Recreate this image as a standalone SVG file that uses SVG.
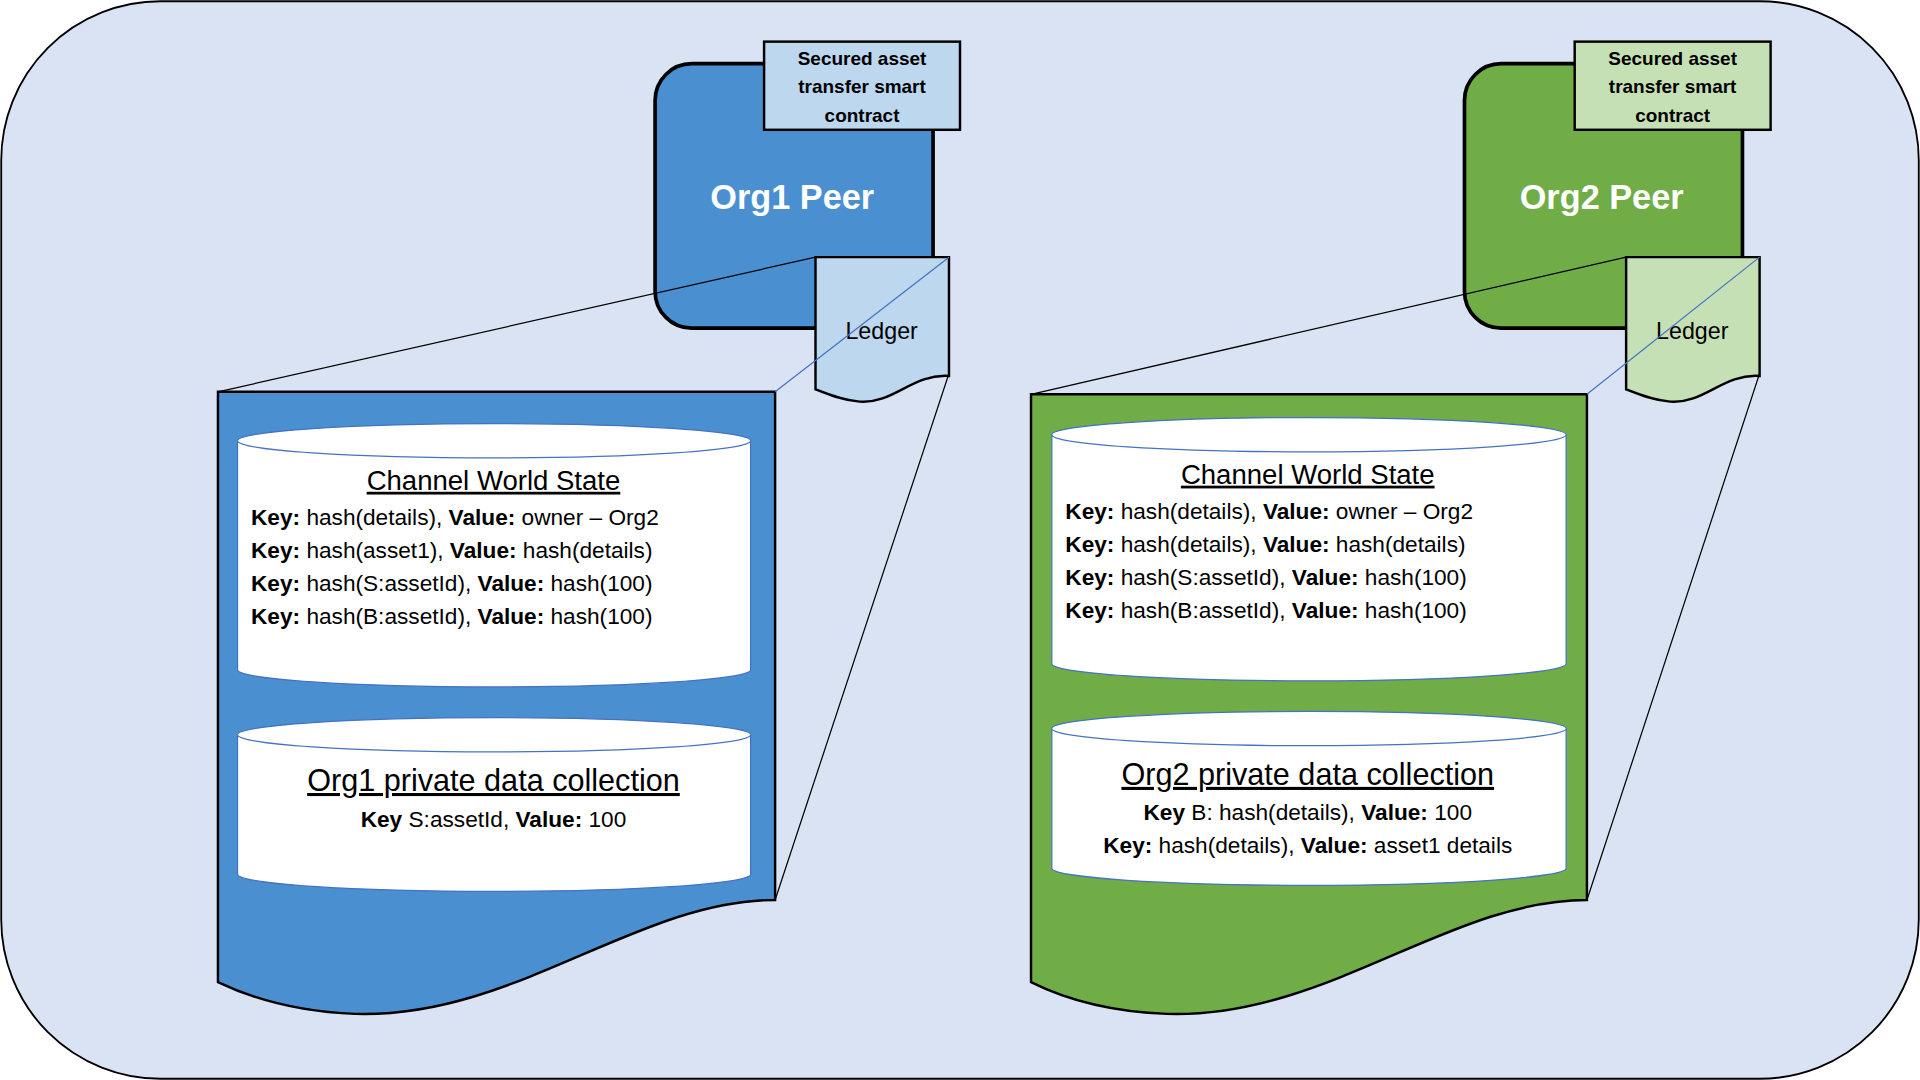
<svg xmlns="http://www.w3.org/2000/svg" width="1920" height="1080" viewBox="0 0 1920 1080">
<style>
text{font-family:"Liberation Sans",Arial,sans-serif;fill:#000}
.peer{stroke:#000;stroke-width:3}
.box{stroke:#000;stroke-width:2}
.cyl{fill:#fff;stroke:#4472c4;stroke-width:1}
.t{font-size:18.5px}
.ttl{font-size:22.5px;text-decoration:underline;text-anchor:middle}
.big{font-size:25px;text-decoration:underline;text-anchor:middle}
.sc{font-size:15.5px;font-weight:bold;text-anchor:middle}
.pl{font-size:28px;font-weight:bold;fill:#fff;text-anchor:middle}
.ln{stroke:#000;stroke-width:1;fill:none}
.bl{stroke:#4472c4;stroke-width:1;fill:none}
</style>
<g transform="scale(1.22449)">
<rect id="background" x="1" y="1" width="1566" height="880" rx="130" fill="#dae3f3" stroke="#000" stroke-width="1.5"/>
<g id="org1">
<g id="org1-peer"><rect class="peer" x="535" y="52" width="227" height="216" rx="30" fill="#4a8fd0"/><text class="pl" x="647" y="171">Org1 Peer</text></g>
<g id="org1-contract"><rect class="box" x="624" y="34" width="160" height="72" fill="#bdd7ee"/><text class="sc" x="704" y="53">Secured asset</text><text class="sc" x="704" y="76">transfer smart</text><text class="sc" x="704" y="100">contract</text></g>
<g id="org1-ledger"><path class="box" d="M666,210 H775 V307 C745,305 730,330 702,328 C688,327 676,322 666,318 Z" fill="#bdd7ee" stroke-width="1.5"/><text x="720" y="277" font-size="19" text-anchor="middle">Ledger</text></g>
<g id="org1-doc"><path class="box" d="M178,320 H633 V735 C520,735 420,832 290,828 C240,826 205,815 178,802 Z" fill="#4a8fd0"/></g>
<g id="org1-world">
<path class="cyl" d="M194,360 A209.5,14 0 0 1 613,360 V547 A209.5,14 0 0 1 194,547 Z"/><path class="cyl" fill="none" d="M194,360 A209.5,14 0 0 0 613,360"/>
<text class="ttl" x="403" y="400">Channel World State</text>
<text class="t" x="205" y="429"><tspan font-weight="bold">Key:</tspan> hash(details), <tspan font-weight="bold">Value:</tspan> owner – Org2</text>
<text class="t" x="205" y="456"><tspan font-weight="bold">Key:</tspan> hash(asset1), <tspan font-weight="bold">Value:</tspan> hash(details)</text>
<text class="t" x="205" y="483"><tspan font-weight="bold">Key:</tspan> hash(S:assetId), <tspan font-weight="bold">Value:</tspan> hash(100)</text>
<text class="t" x="205" y="510"><tspan font-weight="bold">Key:</tspan> hash(B:assetId), <tspan font-weight="bold">Value:</tspan> hash(100)</text>
</g>
<g id="org1-private">
<path class="cyl" d="M194,600 A209.5,14 0 0 1 613,600 V714 A209.5,14 0 0 1 194,714 Z"/><path class="cyl" fill="none" d="M194,600 A209.5,14 0 0 0 613,600"/>
<text class="big" x="403" y="646">Org1 private data collection</text>
<text class="t" x="403" y="675" text-anchor="middle"><tspan font-weight="bold">Key</tspan> S:assetId, <tspan font-weight="bold">Value:</tspan> 100</text>
</g>
</g>
<g id="org2">
<g id="org2-peer"><rect class="peer" x="1196" y="52" width="227" height="216" rx="30" fill="#70ad47"/><text class="pl" x="1308" y="171">Org2 Peer</text></g>
<g id="org2-contract"><rect class="box" x="1286" y="34" width="160" height="72" fill="#c5e0b4"/><text class="sc" x="1366" y="53">Secured asset</text><text class="sc" x="1366" y="76">transfer smart</text><text class="sc" x="1366" y="100">contract</text></g>
<g id="org2-ledger"><path class="box" d="M1328,210 H1437 V307 C1407,305 1392,330 1364,328 C1350,327 1338,322 1328,318 Z" fill="#c5e0b4" stroke-width="1.5"/><text x="1382" y="277" font-size="19" text-anchor="middle">Ledger</text></g>
<g id="org2-doc"><path class="box" d="M842,322 H1296 V735 C1183,735 1083,832 953,828 C903,826 868,815 842,802 Z" fill="#70ad47"/></g>
<g id="org2-world">
<path class="cyl" d="M859,355 A210,14 0 0 1 1279,355 V542 A210,14 0 0 1 859,542 Z"/><path class="cyl" fill="none" d="M859,355 A210,14 0 0 0 1279,355"/>
<text class="ttl" x="1068" y="395">Channel World State</text>
<text class="t" x="870" y="424"><tspan font-weight="bold">Key:</tspan> hash(details), <tspan font-weight="bold">Value:</tspan> owner – Org2</text>
<text class="t" x="870" y="451"><tspan font-weight="bold">Key:</tspan> hash(details), <tspan font-weight="bold">Value:</tspan> hash(details)</text>
<text class="t" x="870" y="478"><tspan font-weight="bold">Key:</tspan> hash(S:assetId), <tspan font-weight="bold">Value:</tspan> hash(100)</text>
<text class="t" x="870" y="505"><tspan font-weight="bold">Key:</tspan> hash(B:assetId), <tspan font-weight="bold">Value:</tspan> hash(100)</text>
</g>
<g id="org2-private">
<path class="cyl" d="M859,595 A210,14 0 0 1 1279,595 V709 A210,14 0 0 1 859,709 Z"/><path class="cyl" fill="none" d="M859,595 A210,14 0 0 0 1279,595"/>
<text class="big" x="1068" y="641">Org2 private data collection</text>
<text class="t" x="1068" y="670" text-anchor="middle"><tspan font-weight="bold">Key</tspan> B: hash(details), <tspan font-weight="bold">Value:</tspan> 100</text>
<text class="t" x="1068" y="697" text-anchor="middle"><tspan font-weight="bold">Key:</tspan> hash(details), <tspan font-weight="bold">Value:</tspan> asset1 details</text>
</g>
</g>
<g id="connectors">
<line class="ln" x1="178" y1="320" x2="666" y2="210"/>
<line class="ln" x1="633" y1="735" x2="775" y2="305"/>
<line class="bl" x1="633" y1="320" x2="775" y2="210"/>
<line class="ln" x1="842" y1="322" x2="1328" y2="210"/>
<line class="ln" x1="1296" y1="735" x2="1437" y2="305"/>
<line class="bl" x1="1296" y1="322" x2="1437" y2="210"/>
</g>
</g>
</svg>
